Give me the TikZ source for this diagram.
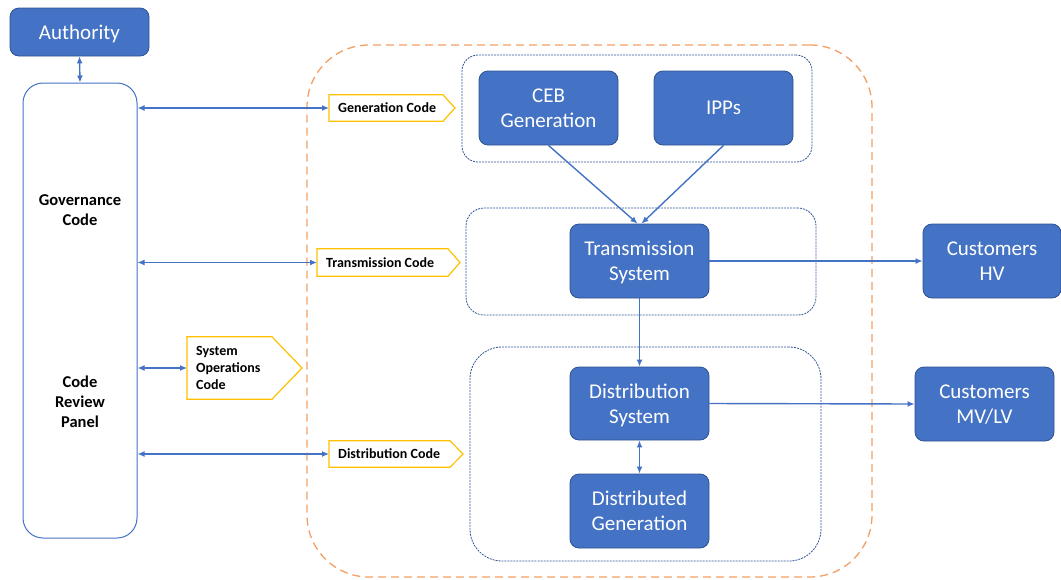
\documentclass[tikz,border=0pt]{standalone}
\usepackage{fontspec}
\setmainfont{Carlito}
\usetikzlibrary{arrows.meta,calc}

\definecolor{boxblue}{HTML}{4472C4}
\definecolor{boxedge}{HTML}{2F528F}
\definecolor{groupedge}{HTML}{2F5597}
\definecolor{zoneorange}{HTML}{F2A067}
\definecolor{codeyellow}{HTML}{FFC000}

% pentagon tag drawn around a code label: body width #2, tip depth #3
\newcommand\codetag[3]{%
  \draw[codeline] (#1.north west) -- ($(#1.north west)+(#2,0)$)
    -- ($(#1.west)+(#2+#3,0)$) -- ($(#1.south west)+(#2,0)$)
    -- (#1.south west) -- cycle;}

\begin{document}
\begin{tikzpicture}[x=1pt,y=-1pt,
  unit/.style={draw=boxedge, line width=0.8pt, fill=boxblue, rounded corners=9pt,
    text=white, align=center, inner sep=0pt, text depth=0pt,
    font=\fontsize{21}{25}\selectfont},
  panel/.style={draw=boxblue, line width=1pt, fill=white, rounded corners=20pt},
  paneltext/.style={align=center, font=\bfseries\fontsize{16.5}{20}\selectfont},
  zone/.style={draw=zoneorange, line width=1.3pt, dash pattern=on 8pt off 5pt},
  group/.style={draw=groupedge, line width=0.8pt, dash pattern=on 2pt off 1pt},
  codebody/.style={anchor=west, inner xsep=9pt, inner ysep=0pt, align=left,
    font=\bfseries\fontsize{14}{17}\selectfont},
  codeline/.style={draw=codeyellow, line width=1.2pt, line join=miter},
  flow/.style={draw=boxblue, line width=1.4pt, -{Latex[length=7pt,width=6pt]}},
  both/.style={flow, {Latex[length=7pt,width=6pt]}-{Latex[length=7pt,width=6pt]}},
]
\useasboundingbox (0,0) rectangle (1061,579);

% industry zone and its three groups
\node[zone, rounded corners=62pt, minimum width=565pt, minimum height=532pt] (zone) at (589.5,311) {};
\node[group, rounded corners=16pt, minimum width=350pt, minimum height=107pt] (gengrp) at (637,108.5) {};
\node[group, rounded corners=18pt, minimum width=350pt, minimum height=107pt] (trgrp) at (641,261.5) {};
\node[group, rounded corners=32pt, minimum width=351pt, minimum height=214pt] (dsgrp) at (645.5,454) {};

% authority and governance panel
\node[unit, minimum width=139pt, minimum height=48pt] (auth) at (79.5,32) {Authority};
\node[panel, minimum width=114pt, minimum height=455pt] (gov) at (80,310.5) {};
\node[paneltext] (govtxt) at (80,210) {Governance\\Code};
\node[paneltext] (crptxt) at (80,402) {Code\\Review\\Panel};

% system units
\node[unit, minimum width=139pt, minimum height=74pt] (ceb) at (548.5,108) {CEB\\Generation};
\node[unit, minimum width=139pt, minimum height=74pt] (ipp) at (723.5,108) {IPPs};
\node[unit, minimum width=139pt, minimum height=74pt] (trans) at (639.5,261) {Transmission\\System};
\node[unit, minimum width=138pt, minimum height=74pt] (hv) at (992,261) {Customers\\HV};
\node[unit, minimum width=139pt, minimum height=73pt] (dist) at (639.5,403.5) {Distribution\\System};
\node[unit, minimum width=139pt, minimum height=74pt] (dg) at (639.5,511) {Distributed\\Generation};
\node[unit, minimum width=139pt, minimum height=74pt] (mvlv) at (984.5,404) {Customers\\MV/LV};

% code labels
\node[codebody, minimum height=26pt] (gcode) at (329,108) {Generation Code};
\codetag{gcode}{114}{12}
\node[codebody, minimum height=27pt] (tcode) at (317,262.5) {Transmission Code};
\codetag{tcode}{131}{12}
\node[codebody, minimum height=62pt] (scode) at (187,368) {System\\Operations\\Code};
\codetag{scode}{85}{30}
\node[codebody, minimum height=26pt] (dcode) at (329,454) {Distribution Code};
\codetag{dcode}{121}{13}

% connectors
\draw[both] (auth.south) -- (gov.north);
\draw[both] (gov.east |- gcode.west) -- (gcode.west);
\draw[both] (gov.east |- tcode.west) -- (tcode.west);
\draw[both] (gov.east |- scode.west) -- (scode.west);
\draw[both] (gov.east |- dcode.west) -- (dcode.west);
\draw[flow] (ceb.south) -- ([xshift=-2pt]trans.north);
\draw[flow] (ipp.south) -- ([xshift=2pt]trans.north);
\draw[flow] (trans.east) -- (hv.west);
\draw[flow] (trans.south) -- (dist.north);
\draw[flow] (dist.east) -- (mvlv.west);
\draw[both] (dist.south) -- (dg.north);
\end{tikzpicture}
\end{document}
